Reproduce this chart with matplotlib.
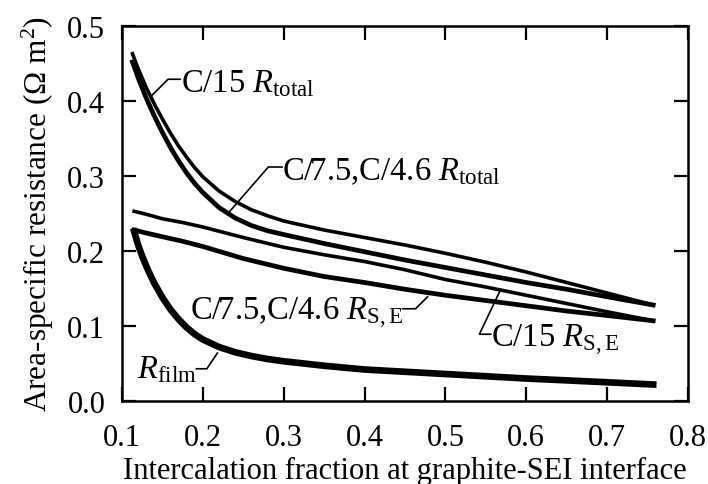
import matplotlib
matplotlib.use("Agg")
import matplotlib.pyplot as plt
import numpy as np

plt.rcParams['font.family'] = ['Liberation Serif', 'DejaVu Serif']
plt.rcParams['mathtext.fontset'] = 'custom'
plt.rcParams['mathtext.rm'] = 'Liberation Serif'
plt.rcParams['mathtext.it'] = 'Liberation Serif:italic'

# ---------------- data ----------------
x_c15_tot = [0.113, 0.12, 0.13, 0.14, 0.15, 0.16, 0.17, 0.18, 0.19, 0.2, 0.22, 0.24, 0.26, 0.28, 0.3,
             0.35, 0.4, 0.45, 0.5, 0.55, 0.6, 0.65, 0.7, 0.757]
y_c15_tot = [0.463, 0.443, 0.418, 0.396, 0.376, 0.357, 0.340, 0.325, 0.311, 0.299, 0.280, 0.266, 0.255, 0.247, 0.240,
             0.228, 0.218, 0.208, 0.197, 0.185, 0.172, 0.158, 0.144, 0.128]

x_c75_tot = [0.113, 0.12, 0.13, 0.14, 0.15, 0.16, 0.17, 0.18, 0.19, 0.2, 0.22, 0.24, 0.26, 0.28, 0.3,
             0.35, 0.4, 0.45, 0.5, 0.55, 0.6, 0.65, 0.7, 0.757]
y_c75_tot = [0.452, 0.431, 0.404, 0.380, 0.358, 0.338, 0.320, 0.304, 0.290, 0.278, 0.258, 0.244, 0.234, 0.227, 0.222,
             0.210, 0.199, 0.188, 0.178, 0.168, 0.158, 0.149, 0.139, 0.128]

x_c15_se = [0.115, 0.13, 0.15, 0.175, 0.2, 0.25, 0.3, 0.35, 0.4, 0.45, 0.5, 0.55, 0.6, 0.65, 0.7, 0.757]
y_c15_se = [0.253, 0.249, 0.243, 0.238, 0.232, 0.218, 0.205, 0.195, 0.186, 0.175, 0.162, 0.152, 0.141, 0.13, 0.119, 0.107]

x_c75_se = [0.115, 0.13, 0.15, 0.175, 0.2, 0.25, 0.3, 0.35, 0.4, 0.45, 0.5, 0.55, 0.6, 0.65, 0.7, 0.757]
y_c75_se = [0.228, 0.224, 0.219, 0.213, 0.206, 0.19, 0.177, 0.166, 0.158, 0.149, 0.141, 0.134, 0.127, 0.12, 0.114, 0.107]

x_film = [0.115, 0.12, 0.125, 0.13, 0.135, 0.14, 0.15, 0.16, 0.17, 0.18, 0.19, 0.2, 0.22, 0.24, 0.26, 0.28,
          0.3, 0.35, 0.4, 0.5, 0.6, 0.7, 0.757]
y_film = [0.226, 0.208, 0.193, 0.180, 0.168, 0.157, 0.138, 0.122, 0.109, 0.098, 0.089, 0.082, 0.072, 0.065, 0.060, 0.056,
          0.053, 0.047, 0.042, 0.036, 0.030, 0.025, 0.022]

xticks = [0.1, 0.2, 0.3, 0.4, 0.5, 0.6, 0.7, 0.8]
yticks = [0.0, 0.1, 0.2, 0.3, 0.4, 0.5]

fig = plt.figure(figsize=(7.08, 4.85), dpi=100)
ax = fig.add_axes([0.1723, 0.1711, 0.7994, 0.7732])

lw = 2.6
ax.plot(x_c15_tot, y_c15_tot, color='k', lw=lw, solid_joinstyle='round')
ax.plot(x_c75_tot, y_c75_tot, color='k', lw=lw + 0.8, solid_joinstyle='round')
ax.plot(x_c15_se, y_c15_se, color='k', lw=lw, solid_joinstyle='round')
ax.plot(x_c75_se, y_c75_se, color='k', lw=lw + 0.8, solid_joinstyle='round')
ax.plot(x_film, y_film, color='k', lw=4.8, solid_joinstyle='round')

# ---------------- labels with leader lines ----------------
fs = 22
afs = 23.5
def leader(pts):
    xs, ys = zip(*pts)
    ax.plot(xs, ys, color='k', lw=1.2)

leader([(0.1347, 0.405), (0.157, 0.429), (0.172, 0.429)])
ax.text(0.173, 0.424, r'C/15 $R_{\mathrm{total}}$', fontsize=afs, va='center', ha='left')

leader([(0.231, 0.250), (0.281, 0.312), (0.298, 0.312)])
ax.text(0.298, 0.307, r'C/7.5,C/4.6 $R_{\mathrm{total}}$', fontsize=afs, va='center', ha='left')

leader([(0.478, 0.139), (0.463, 0.123), (0.447, 0.123)])
ax.text(0.447, 0.118, r'C/7.5,C/4.6 $R_{\mathrm{S,E}}$', fontsize=afs, va='center', ha='right')

leader([(0.568, 0.148), (0.542, 0.089), (0.556, 0.089)])
ax.text(0.556, 0.082, r'C/15 $R_{\mathrm{S,E}}$', fontsize=afs, va='center', ha='left')

leader([(0.218, 0.064), (0.205, 0.043), (0.192, 0.043)])
ax.text(0.192, 0.043, r'$R_{\mathrm{film}}$', fontsize=afs, va='center', ha='right')

ax.set_xlim(0.1, 0.8)
ax.set_ylim(0.0, 0.5)
ax.set_xticks(xticks)
ax.set_yticks(yticks)
ax.set_xticklabels(['%.1f' % v for v in xticks])
ax.set_yticklabels(['%.1f' % v for v in yticks])
ax.tick_params(direction='in', length=10, width=1.6, top=True, right=True,
               labelsize=fs, pad=12)
ax.tick_params(axis='x', pad=16)
for s in ax.spines.values():
    s.set_linewidth(1.8)

ax.set_xlabel('Intercalation fraction at graphite-SEI interface', fontsize=fs, labelpad=3)
ax.set_ylabel(r'Area-specific resistance ($\Omega$ m$^2$)', fontsize=22.5, labelpad=8)

fig.savefig('out.png', dpi=100)
